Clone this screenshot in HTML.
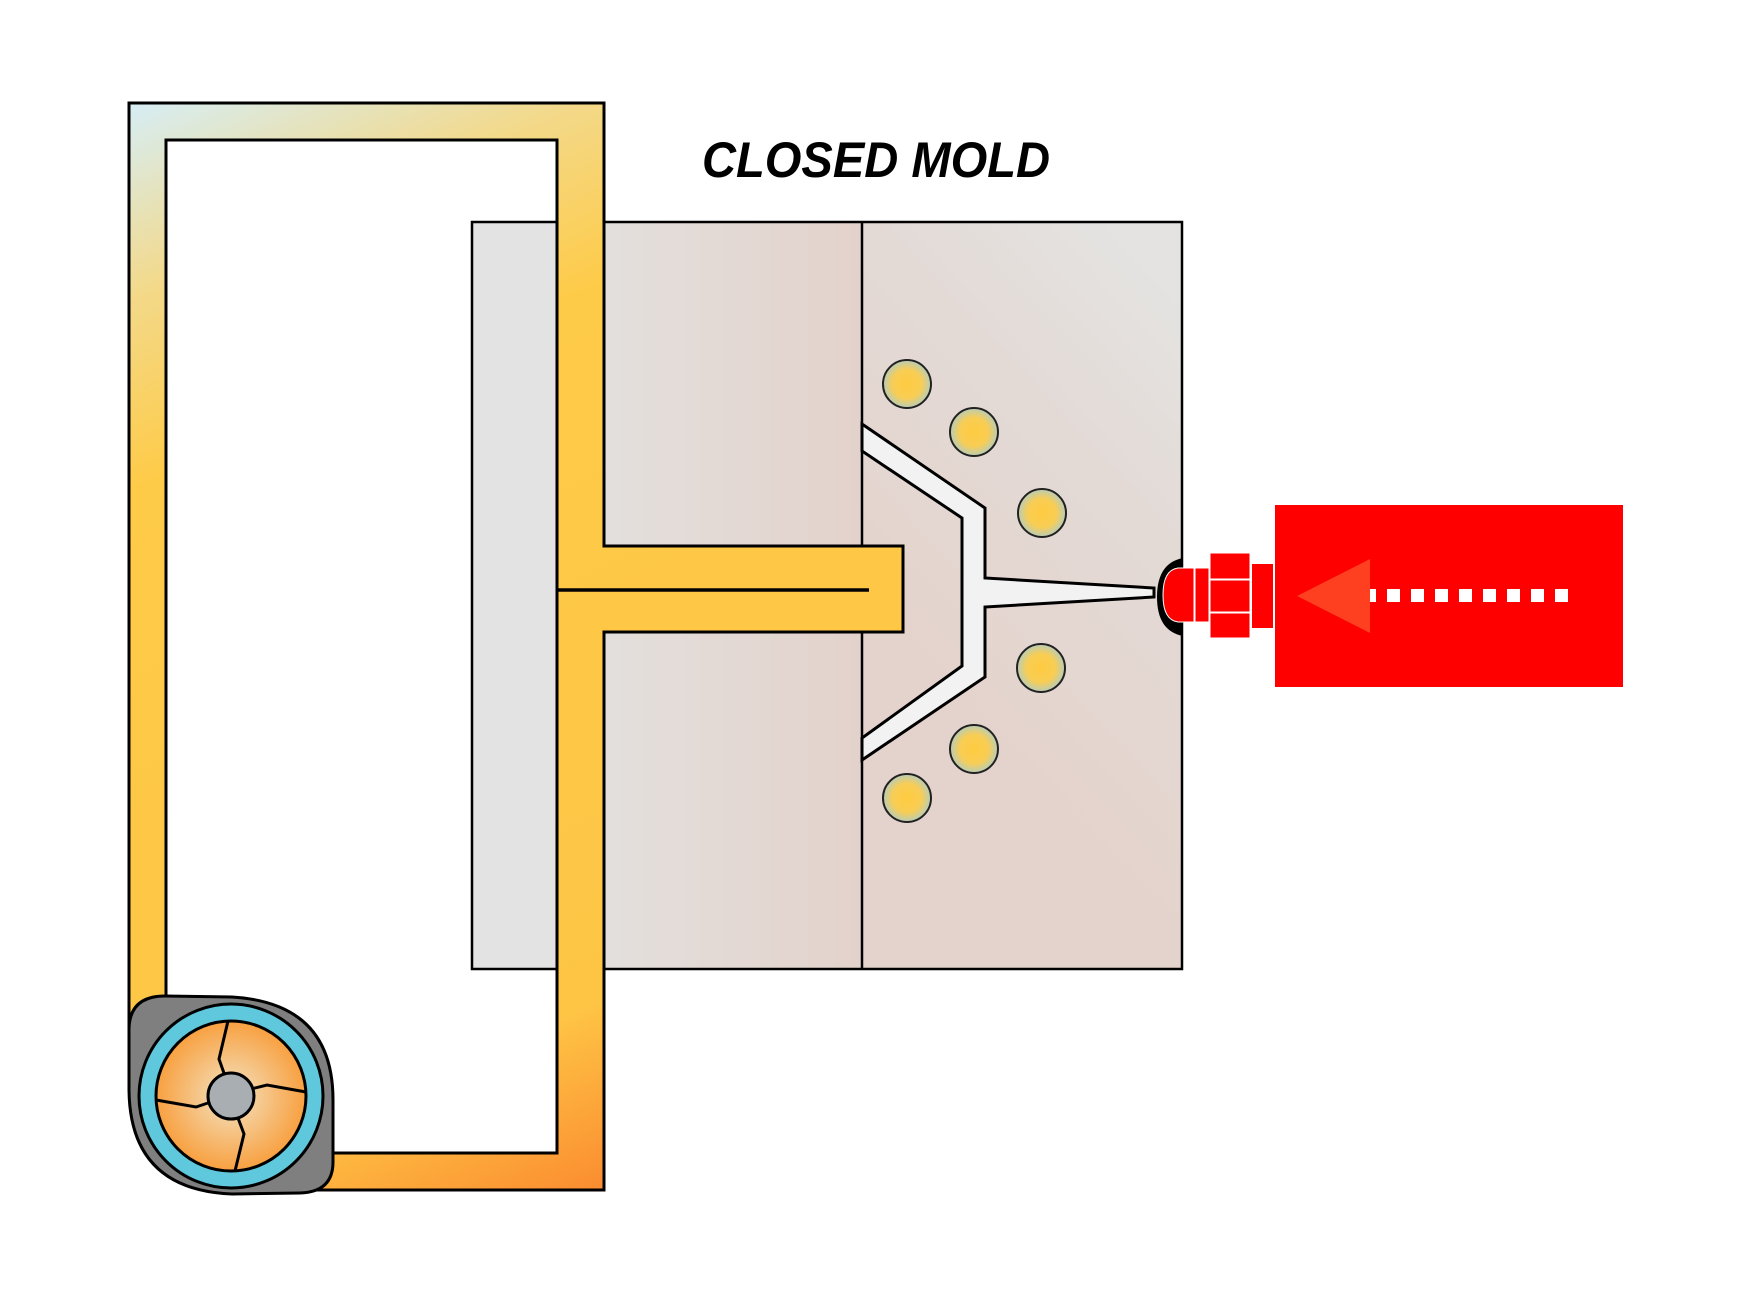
<!DOCTYPE html>
<html><head><meta charset="utf-8"><style>html,body{margin:0;padding:0;background:#fff}svg{display:block}</style></head><body>
<svg width="1751" height="1293" viewBox="0 0 1751 1293" xmlns="http://www.w3.org/2000/svg">
<defs>
<linearGradient id="pipe" x1="129" y1="103" x2="604" y2="1190" gradientUnits="userSpaceOnUse">
<stop offset="0" stop-color="#d6eef6"/><stop offset="0.15" stop-color="#f3d98a"/><stop offset="0.3" stop-color="#fecb48"/><stop offset="0.85" stop-color="#fec545"/><stop offset="1" stop-color="#fb8c30"/></linearGradient>
<linearGradient id="mid" x1="557" y1="0" x2="862" y2="0" gradientUnits="userSpaceOnUse">
<stop offset="0" stop-color="#e3e2e0"/><stop offset="1" stop-color="#e3d2cb"/></linearGradient>
<linearGradient id="right" x1="862" y1="600" x2="1182" y2="300" gradientUnits="userSpaceOnUse">
<stop offset="0" stop-color="#e4d3cc"/><stop offset="0.6" stop-color="#e3dad6"/><stop offset="1" stop-color="#e4e3e1"/></linearGradient>
<radialGradient id="ball"><stop offset="0" stop-color="#ffcc40"/><stop offset="0.6" stop-color="#f8cd55"/><stop offset="1" stop-color="#b8cdb8"/></radialGradient>
<radialGradient id="fan"><stop offset="0" stop-color="#f3e4c4"/><stop offset="1" stop-color="#f8a040"/></radialGradient>
</defs>
<!-- mold -->
<rect x="472" y="222" width="90" height="747" fill="#e3e3e3"/>
<rect x="557" y="222" width="305" height="747" fill="url(#mid)"/>
<rect x="862" y="222" width="320" height="747" fill="url(#right)"/>
<rect x="472" y="222" width="710" height="747" fill="none" stroke="#000" stroke-width="2.5"/>
<line x1="862" y1="222" x2="862" y2="969" stroke="#000" stroke-width="2.5"/>
<!-- cavity -->
<path d="M862,424 L985,508 L985,578 L1154,588 L1154,597 L985,607 L985,677 L862,760 L862,738 L962,666 L962,518 L862,451 Z" fill="#f2f2f2" stroke="#000" stroke-width="3" stroke-linejoin="miter"/>
<g fill="url(#ball)" stroke="#222" stroke-width="2">
<circle cx="907" cy="384" r="24"/><circle cx="974" cy="432" r="24"/><circle cx="1042" cy="513" r="24"/>
<circle cx="1041" cy="668" r="24"/><circle cx="974" cy="749" r="24"/><circle cx="907" cy="798" r="24"/></g>
<!-- pipe -->
<path fill-rule="evenodd" d="M129,103 L604,103 L604,546 L903,546 L903,632 L604,632 L604,1190 L280,1190 L129,1040 Z M166,140 L557,140 L557,1153 L166,1153 Z" fill="url(#pipe)" stroke="#000" stroke-width="3"/>
<line x1="557" y1="590" x2="869" y2="590" stroke="#000" stroke-width="3.5"/>
<!-- pump -->
<path d="M129,1030 Q129,996 165,996 L232,997 Q333,1003 333,1100 L333,1162 Q333,1192 300,1193 L232,1194 Q130,1190 129,1090 Z" fill="#7f7f7f" stroke="#000" stroke-width="3"/>
<circle cx="231" cy="1096" r="92" fill="#5fc8dc" stroke="#000" stroke-width="3"/>
<circle cx="231" cy="1096" r="75" fill="url(#fan)" stroke="#000" stroke-width="3"/>
<g stroke="#000" stroke-width="3" fill="none">
<path d="M228,1021 L219,1059 L225,1076"/><path d="M306,1092 L267,1085 L251,1089"/><path d="M235,1171 L244,1134 L238,1118"/><path d="M156,1100 L196,1107 L211,1102"/></g>
<circle cx="231" cy="1096" r="23" fill="#a8aeb2" stroke="#000" stroke-width="3"/>
<!-- nozzle -->
<path d="M1183,558 Q1157,563 1157,597 Q1157,631 1183,636 Z" fill="#000"/>
<g transform="translate(-7,-2)">
<path d="M1201,570 L1185,570 Q1170,572 1170,597 Q1170,622 1185,624 L1201,624 Z" fill="#f00" stroke="#fff" stroke-width="1"/>
<rect x="1202" y="570" width="14" height="54" fill="#f00" stroke="#fff" stroke-width="1"/>
<rect x="1217" y="555" width="40" height="26" fill="#f00" stroke="#fff" stroke-width="1"/>
<rect x="1217" y="582" width="40" height="32" fill="#f00" stroke="#fff" stroke-width="1"/>
<rect x="1217" y="615" width="40" height="25" fill="#f00" stroke="#fff" stroke-width="1"/>
<rect x="1259" y="566" width="21" height="64" fill="#f00"/>
</g>
<g transform="translate(-8,-2)">
<rect x="1283" y="507" width="348" height="182" fill="#f00"/>
<polygon points="1305,598 1378,561 1378,635" fill="#ff4020"/>
<g fill="#fff">
<rect x="1378" y="591" width="6" height="13"/>
<rect x="1395" y="591" width="13" height="13"/><rect x="1419" y="591" width="13" height="13"/><rect x="1443" y="591" width="13" height="13"/><rect x="1467" y="591" width="13" height="13"/><rect x="1491" y="591" width="13" height="13"/><rect x="1515" y="591" width="13" height="13"/><rect x="1539" y="591" width="13" height="13"/><rect x="1563" y="591" width="13" height="13"/></g>
</g>
<text x="702" y="177" textLength="348" lengthAdjust="spacingAndGlyphs" font-family="Liberation Sans, sans-serif" font-weight="bold" font-style="italic" font-size="50" fill="#000">CLOSED MOLD</text>
</svg>
</body></html>
